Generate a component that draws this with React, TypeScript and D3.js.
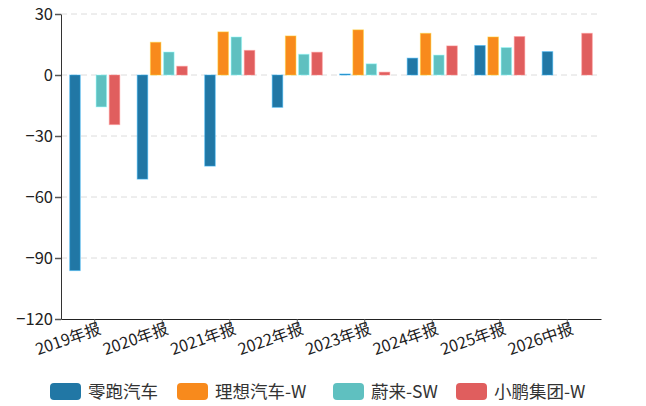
import React, { useEffect, useRef } from 'react';
import * as d3 from 'd3';

const periods = ['2019年报', '2020年报', '2021年报', '2022年报', '2023年报', '2024年报', '2025年报', '2026中报'];
const seriesNames = ['零跑汽车', '理想汽车-W', '蔚来-SW', '小鹏集团-W'];
const colors = ['#2177a5', '#f88a1c', '#5fc0c0', '#e05e5e'];

const leapmotor = [-96.2, -51.2, -44.8, -15.9, 0.5, 8.3, 14.5, 11.5];
const liAuto = [null, 16.1, 21.2, 19.2, 22.2, 20.5, 18.7, null];
const nio = [-15.7, 11.3, 18.7, 10.2, 5.5, 9.8, 13.5, null];
const xpeng = [-24.4, 4.3, 12.1, 11.2, 1.4, 14.3, 18.9, 20.5];
const seriesValues: (number | null)[][] = [leapmotor, liAuto, nio, xpeng];

const yTicks = [30, 0, -30, -60, -90, -120];

export default function App() {
  const svgRef = useRef<SVGSVGElement>(null);

  useEffect(() => {
    if (!svgRef.current) return;
    const root = d3.select(svgRef.current);
    root.selectAll('*').remove();

    const margin = { top: 14, right: 45, bottom: 87, left: 61 };
    const W = 646;
    const H = 406;
    const width = W - margin.left - margin.right;
    const height = H - margin.top - margin.bottom;
    const font = '"Noto Sans CJK SC", "Noto Sans", sans-serif';

    root.attr('width', W).attr('height', H);
    const g = root.append('g').attr('transform', `translate(${margin.left},${margin.top})`);

    const x = d3.scaleBand().domain(periods).range([0, width]).paddingInner(0.18).paddingOuter(0.09);
    const xInner = d3.scaleBand().domain(seriesNames).range([0, x.bandwidth()]).padding(0.2);
    const y = d3.scaleLinear().domain([-120, 30]).range([height, 0]);

    // grid
    g.append('g')
      .selectAll('line')
      .data(yTicks.filter(t => t !== -120))
      .enter()
      .append('line')
      .attr('x1', 0)
      .attr('x2', width)
      .attr('y1', d => y(d))
      .attr('y2', d => y(d))
      .attr('stroke', '#dcdcdc')
      .attr('stroke-dasharray', '6,4');

    // bars
    seriesNames.forEach((name, si) => {
      const data = periods
        .map((p, i) => ({ p, v: seriesValues[si][i] }))
        .filter(d => d.v !== null) as { p: string; v: number }[];
      g.append('g')
        .selectAll('rect')
        .data(data)
        .enter()
        .append('rect')
        .attr('x', d => (x(d.p) as number) + (xInner(name) as number))
        .attr('width', xInner.bandwidth())
        .attr('y', d => Math.min(y(d.v), y(0)))
        .attr('height', d => Math.max(1, Math.abs(y(d.v) - y(0))))
        .attr('fill', colors[si])
        .attr('stroke', d3.color(colors[si])!.brighter(1.2).formatHex())
        .attr('stroke-opacity', 0.5)
        .attr('stroke-width', 1);
    });

    // y axis
    const yAxis = g.append('g').call(d3.axisLeft(y).tickValues(yTicks).tickSize(6).tickSizeOuter(0));
    yAxis.select('.domain').attr('stroke', '#333');
    yAxis.selectAll('.tick line').attr('stroke', '#555').attr('stroke-width', 1.5);
    yAxis.selectAll('text').attr('font-size', 16.5).attr('font-family', font).attr('fill', '#222').attr('dx', 1);

    // x axis
    const xAxis = g
      .append('g')
      .attr('transform', `translate(0,${height})`)
      .call(d3.axisBottom(x).tickSize(8).tickSizeOuter(0));
    xAxis.select('.domain').attr('stroke', '#222');
    xAxis.selectAll('.tick line').attr('stroke', '#555');
    xAxis
      .selectAll('text')
      .attr('font-size', 16)
      .attr('font-family', font)
      .attr('fill', '#222')
      .attr('text-anchor', 'end')
      .attr('dy', '0.8em')
      .attr('y', 3)
      .attr('x', 2)
      .attr('transform', 'rotate(-19)');

    // legend
    const legendX = [50, 177, 333, 456];
    const legend = root.append('g').attr('transform', 'translate(0,383)');
    seriesNames.forEach((name, i) => {
      const item = legend.append('g').attr('transform', `translate(${legendX[i]},0)`);
      item.append('rect').attr('width', 31).attr('height', 17).attr('rx', 4).attr('fill', colors[i]);
      item
        .append('text')
        .attr('x', 38)
        .attr('y', 8.5)
        .attr('dy', '0.36em')
        .attr('font-size', 17.5)
        .attr('font-family', font)
        .attr('fill', '#333')
        .text(name);
    });
  }, []);

  return (
    <div style={{ position: 'absolute', left: 0, top: 0 }}>
      <svg ref={svgRef} style={{ display: 'block' }} />
    </div>
  );
}
